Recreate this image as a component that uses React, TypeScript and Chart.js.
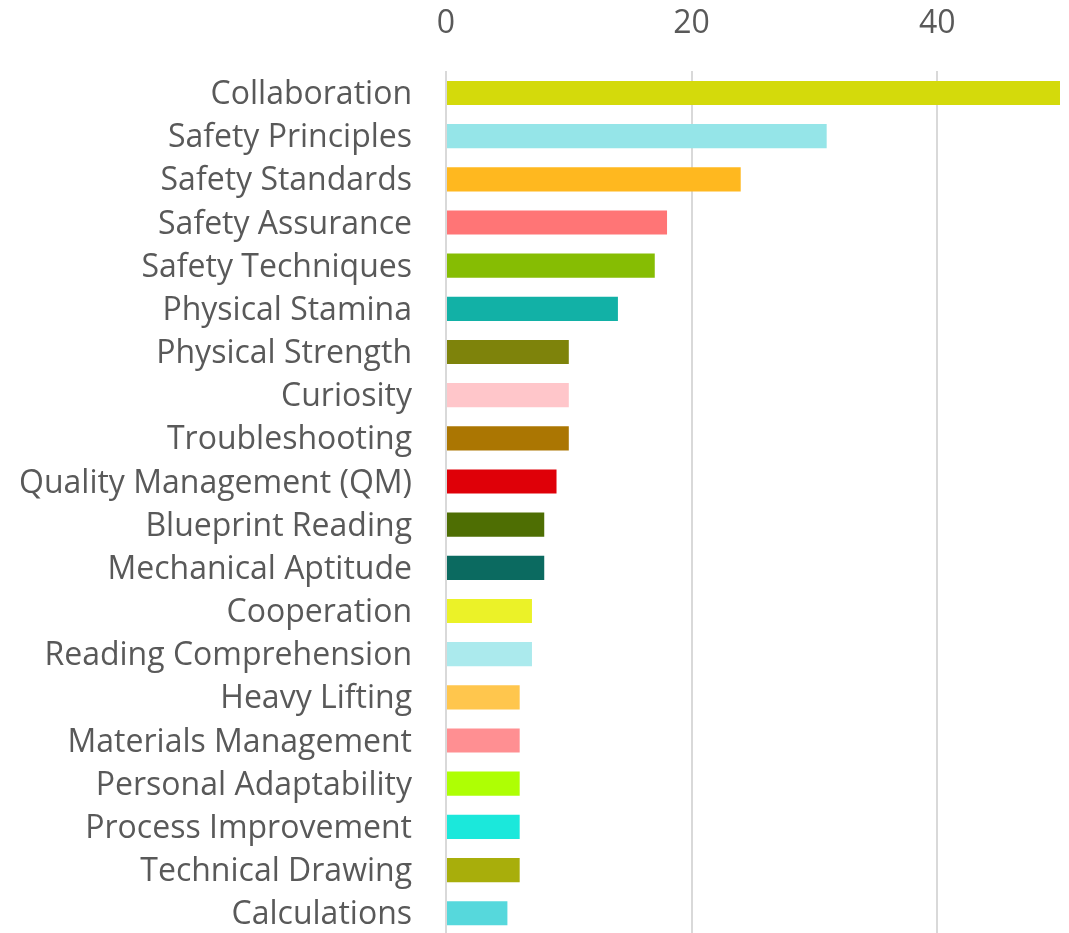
import React, { useEffect, useRef } from "react";
import { Chart, registerables } from "chart.js";

Chart.register(...registerables);

const categories = [
  "Collaboration",
  "Safety Principles",
  "Safety Standards",
  "Safety Assurance",
  "Safety Techniques",
  "Physical Stamina",
  "Physical Strength",
  "Curiosity",
  "Troubleshooting",
  "Quality Management (QM)",
  "Blueprint Reading",
  "Mechanical Aptitude",
  "Cooperation",
  "Reading Comprehension",
  "Heavy Lifting",
  "Materials Management",
  "Personal Adaptability",
  "Process Improvement",
  "Technical Drawing",
  "Calculations",
];

const values = [50, 31, 24, 18, 17, 14, 10, 10, 10, 9, 8, 8, 7, 7, 6, 6, 6, 6, 6, 5];

const barColors = [
  "#d4da0b",
  "#95e5e8",
  "#ffb81f",
  "#ff7576",
  "#86bd03",
  "#12b1a6",
  "#7e830b",
  "#ffc6ca",
  "#ab7602",
  "#df0008",
  "#4e6e03",
  "#0b6a60",
  "#ebf228",
  "#abeaed",
  "#ffc64d",
  "#ff8f92",
  "#aeff04",
  "#1be8db",
  "#a8ae0b",
  "#56d8dc",
];

const xTicks = [0, 20, 40];
const xMax = 50;

export default function App() {
  const canvasRef = useRef<HTMLCanvasElement | null>(null);

  useEffect(() => {
    if (!canvasRef.current) return;
    const textColor = "#595959";
    const font = { family: "'Open Sans', sans-serif", size: 32 };
    const chart = new Chart(canvasRef.current, {
      type: "bar",
      data: {
        labels: categories,
        datasets: [
          {
            data: values,
            backgroundColor: barColors,
            borderWidth: 0,
            categoryPercentage: 1,
            barPercentage: 0.56,
          },
        ],
      },
      options: {
        indexAxis: "y",
        animation: false,
        responsive: false,
        maintainAspectRatio: false,
        layout: { padding: { left: 16, right: 9, top: 0, bottom: 0 } },
        plugins: {
          legend: { display: false },
          tooltip: { enabled: false },
        },
        scales: {
          x: {
            position: "top",
            min: 0,
            max: xMax,
            afterBuildTicks: (axis: any) => {
              axis.ticks = xTicks.map((v) => ({ value: v }));
            },
            grid: { color: "#d9d9d9", lineWidth: 2, drawTicks: false },
            border: { display: false },
            ticks: { color: textColor, font, padding: 28 },
          },
          y: {
            grid: {
              display: true,
              drawOnChartArea: false,
              drawTicks: true,
              tickLength: 31,
              color: "rgba(0,0,0,0)",
              tickColor: "rgba(0,0,0,0)",
            },
            border: { display: false },
            ticks: { color: textColor, font, padding: 3, autoSkip: false, labelOffset: 2 },
          },
        },
      },
    });
    return () => chart.destroy();
  }, []);

  return (
    <div style={{ position: "absolute", left: 0, top: 0, width: 1069, height: 933, overflow: "hidden" }}>
      <canvas
        ref={canvasRef}
        width={1069}
        height={980}
        style={{ display: "block", marginTop: -23 }}
      />
    </div>
  );
}
